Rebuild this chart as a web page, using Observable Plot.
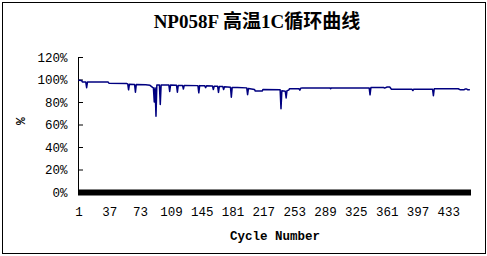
<!DOCTYPE html>
<html><head><meta charset="utf-8">
<script src="https://cdn.jsdelivr.net/npm/d3@7"></script>
<script src="https://cdn.jsdelivr.net/npm/@observablehq/plot@0.6"></script>
<style>
body{margin:0;background:#fff;}
#wrap{position:relative;width:487px;height:256px;overflow:hidden;}
#frame{position:absolute;left:2px;top:2px;width:484px;height:252px;border:1px solid #000;box-sizing:border-box;}
#title{position:absolute;left:0;top:12px;width:514px;text-align:center;font-weight:bold;font-size:19px;line-height:19px;font-family:"Liberation Serif","Noto Sans CJK SC",serif;color:#000;}
#chart{position:absolute;left:0;top:0;}
</style></head>
<body>
<div id="wrap">
  <div id="frame"></div>
  <div id="title">NP058F 高温1C循环曲线</div>
  <div id="chart"></div>
</div>
<script>
const titleText = "NP058F 高温1C循环曲线";
const xLabel = "Cycle Number";
const yLabel = "%";
const xTicks = [1, 37, 73, 109, 145, 181, 217, 253, 289, 325, 361, 397, 433];
const yTicks = [0, 20, 40, 60, 80, 100, 120];

const cycles = [1,4,5,9,10,11,35,36,57,58,59,60,66,67,68,79,84,87,88,89,90,91,92,95,96,97,106,107,108,115,116,117,122,123,124,140,141,142,148,149,150,157,158,159,163,164,165,169,170,171,178,179,180,186,197,198,199,206,207,215,216,236,237,238,242,243,244,246,247,258,259,260,262,294,295,296,340,341,342,357,358,361,364,366,390,391,392,414,415,416,444,446,451,452,454,455,457];
const retention = [99.8,99.6,98.3,98.2,93.2,98.3,98.2,97.2,96.8,96.5,91.3,96.3,96.0,89.2,96.0,95.8,95.3,93.5,93.0,80.5,93.0,67.8,95.5,95.6,78.2,95.6,95.6,89.8,95.5,95.3,89.2,95.2,95.2,92.0,95.2,95.0,88.6,95.0,94.8,93.2,94.8,94.6,91.5,94.5,94.4,89.0,94.3,94.2,91.5,94.0,93.6,84.7,93.4,93.3,93.0,87.0,92.5,91.6,90.2,90.2,91.6,91.3,74.4,90.5,90.0,84.0,90.5,91.0,92.2,92.2,91.0,92.6,93.0,93.0,92.3,93.0,93.0,86.8,93.3,93.3,92.8,93.8,93.8,91.8,91.8,90.6,91.8,91.8,86.0,92.2,92.2,91.4,91.4,92.0,92.0,91.3,91.3];

const data = cycles.map((c, i) => ({cycle: c, value: retention[i]}));

const chart = Plot.plot({
  width: 487,
  height: 256,
  marginLeft: 78,
  marginRight: 16,
  marginTop: 57,
  marginBottom: 64,
  style: {fontFamily: "'Liberation Mono', monospace", fontSize: "12.5px", color: "#000", background: "transparent", overflow: "visible"},
  x: {domain: [0.5, 459.5]},
  y: {domain: [0, 120]},
  marks: [
    Plot.ruleX([0.5], {stroke: "#000", strokeWidth: 1}),
    Plot.axisY(yTicks, {tickSize: -5, tickPadding: 16, tickFormat: d => d + "%", stroke: "#000", fill: "#000", label: null}),
    Plot.axisX(xTicks, {tickSize: 0, tickPadding: 15, fill: "#000", label: null}),
    Plot.ruleY([0], {stroke: "#000", strokeWidth: 6}),
    Plot.line(data, {x: "cycle", y: "value", stroke: "#000080", strokeWidth: 1.5}),
    Plot.text([yLabel], {frameAnchor: "left", dx: -58, rotate: -90, fontWeight: "bold", fontSize: 13, fill: "#000"}),
    Plot.text([xLabel], {frameAnchor: "bottom", dy: 47, fontWeight: "bold", fontSize: 12.5, fill: "#000"})
  ]
});
document.getElementById("chart").appendChild(chart);
document.getElementById("title").textContent = titleText;
</script>
</body></html>
